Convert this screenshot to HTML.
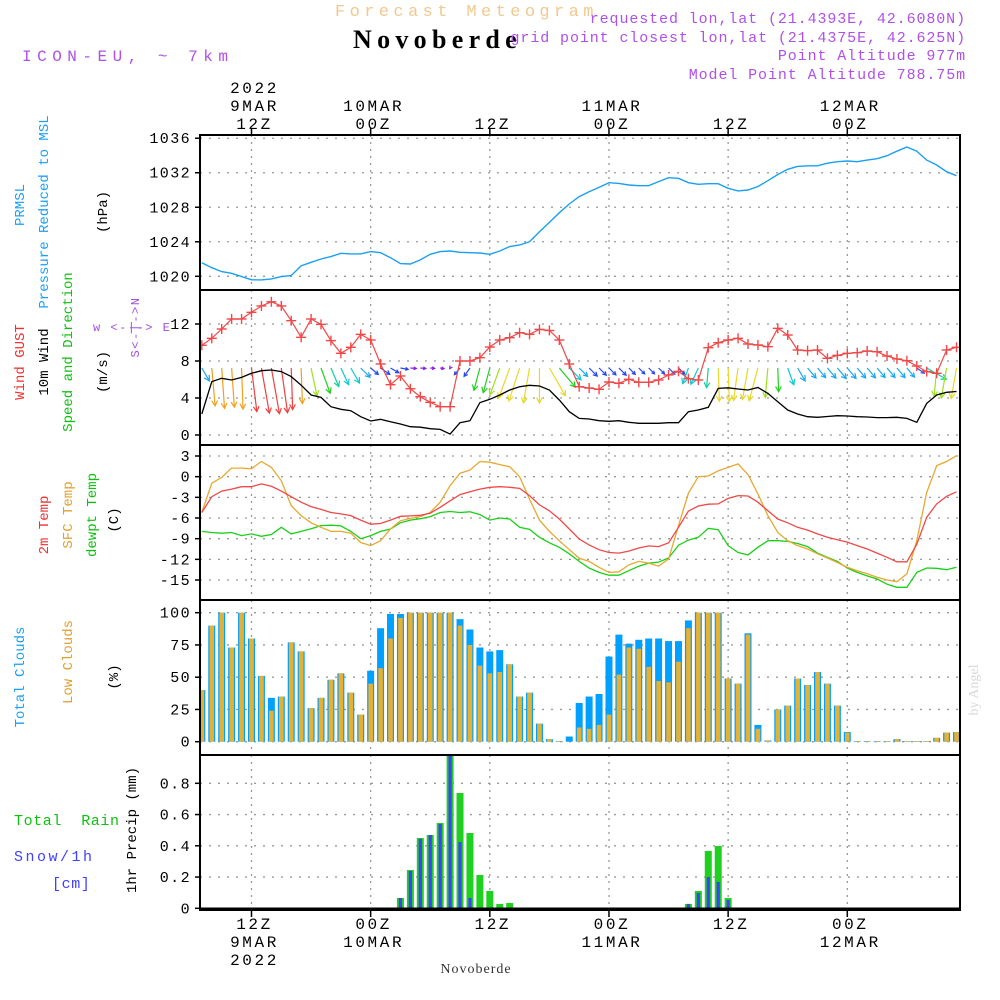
<!DOCTYPE html>
<html><head><meta charset="utf-8"><title>Meteogram Novoberde</title>
<style>
html,body{margin:0;padding:0;background:#fff;}
svg{display:block;font-family:"Liberation Mono",monospace;}
</style></head>
<body>
<svg id="chart" width="1000" height="1000" viewBox="0 0 1000 1000" xmlns="http://www.w3.org/2000/svg">
<defs>
<clipPath id="clipP"><rect x="200" y="755" width="760" height="155"/></clipPath>
<clipPath id="clipAll"><rect x="200" y="135" width="760" height="775"/></clipPath>
</defs>
<text x="335" y="16" font-size="17" fill="#f2c890" letter-spacing="4.4">Forecast Meteogram</text>
<text x="353" y="48" font-size="26" font-weight="bold" font-family="Liberation Serif, serif" fill="#000" letter-spacing="5.3">Novoberde</text>
<g fill="#b050e8" font-size="15" text-anchor="end" letter-spacing="0.9">
<text x="966" y="23">requested lon,lat (21.4393E, 42.6080N)</text>
<text x="966" y="42">grid point closest lon,lat (21.4375E, 42.625N)</text>
<text x="966" y="60">Point Altitude 977m</text>
<text x="966" y="79">Model Point Altitude 788.75m</text>
</g>
<text x="22" y="61" font-size="16" fill="#b050e8" letter-spacing="5.5">ICON-EU, ~ 7km</text>
<text x="978" y="690" font-size="14" fill="#d8d8d8" font-family="Liberation Serif, serif" transform="rotate(-90 978 690)" text-anchor="middle">by Angel</text>

<g font-size="14" text-anchor="middle">
<text transform="translate(24,205) rotate(-90)" fill="#1aa0f0">PRMSL</text>
<text transform="translate(48,212) rotate(-90)" fill="#1aa0f0">Pressure Reduced to MSL</text>
<text transform="translate(107,212) rotate(-90)" fill="#000">(hPa)</text>
<text transform="translate(24,362) rotate(-90)" fill="#f03030">Wind GUST</text>
<text transform="translate(48,362) rotate(-90)" fill="#000">10m Wind</text>
<text transform="translate(72,352) rotate(-90)" fill="#10c010">Speed and Direction</text>
<text transform="translate(107,372) rotate(-90)" fill="#000">(m/s)</text>
<text transform="translate(48,525) rotate(-90)" fill="#f03030">2m Temp</text>
<text transform="translate(72,515) rotate(-90)" fill="#e0a030">SFC Temp</text>
<text transform="translate(96,515) rotate(-90)" fill="#10c010">dewpt Temp</text>
<text transform="translate(118,520) rotate(-90)" fill="#000">(C)</text>
<text transform="translate(24,677) rotate(-90)" fill="#1aa0f0">Total Clouds</text>
<text transform="translate(72,662) rotate(-90)" fill="#e0a030">Low Clouds</text>
<text transform="translate(118,677) rotate(-90)" fill="#000">(%)</text>
<text transform="translate(136,830) rotate(-90)" fill="#000">1hr Precip (mm)</text>
</g>
<g font-size="15" letter-spacing="0.6">
<text x="14" y="825" fill="#10c010" xml:space="preserve">Total  Rain</text>
<text x="14" y="861" fill="#4040ff" letter-spacing="2.5">Snow/1h</text>
<text x="52" y="888" fill="#4040ff">[cm]</text>
</g>
<g fill="#a050e0" font-size="12">
<text x="93" y="331" letter-spacing="1.5">w &lt;-|-&gt; E</text>
<text transform="translate(139,327) rotate(-90)" text-anchor="middle" letter-spacing="1.5">S&lt;-|-&gt;N</text>
</g>
<g id="plots"></g>
</svg>
<script>
// ---- data (hourly, from 9 MAR 07Z (h=-5) to 12 MAR 11Z (h=71); h=0 is 9 MAR 12Z) ----
const hourStart = -5;
const pressure = [1021.58,1021.0,1020.54,1020.35,1019.96,1019.6,1019.58,1019.7,1019.96,1020.08,1021.2,1021.62,1022.0,1022.28,1022.66,1022.6,1022.6,1022.86,1022.74,1022.16,1021.47,1021.43,1021.9,1022.55,1022.86,1022.93,1022.78,1022.74,1022.7,1022.55,1022.93,1023.44,1023.63,1024.0,1025.17,1026.25,1027.37,1028.38,1029.23,1029.8,1030.3,1030.85,1030.77,1030.58,1030.5,1030.5,1030.97,1031.43,1031.35,1030.85,1030.66,1030.73,1030.73,1030.2,1029.9,1030.0,1030.4,1031.08,1031.8,1032.4,1032.74,1032.8,1032.8,1033.1,1033.28,1033.36,1033.28,1033.47,1033.63,1033.98,1034.5,1034.98,1034.5,1033.47,1032.9,1032.12,1031.66];
const gust = [9.7,10.45,11.46,12.54,12.54,13.26,13.95,14.4,13.95,12.36,10.56,12.54,11.96,10.2,8.83,9.48,10.88,10.27,7.68,5.44,6.38,5.0,4.14,3.53,3.06,3.06,8.0,8.0,8.36,9.51,10.27,10.52,11.06,10.88,11.42,11.3,10.27,7.68,5.22,5.08,4.94,5.73,5.59,6.02,5.7,5.7,5.95,6.49,6.88,6.09,5.95,9.44,9.98,10.27,10.45,9.84,9.73,9.55,11.53,10.81,9.19,9.12,9.19,8.29,8.61,8.83,8.9,9.08,9.0,8.54,8.22,8.03,7.46,6.85,6.67,9.19,9.48];
const windSpeed = [2.27,5.77,6.13,5.95,6.23,6.67,6.95,7.03,6.85,6.31,5.4,4.32,4.07,3.06,2.78,2.63,1.98,1.51,1.7,1.44,1.19,0.9,0.84,0.68,0.6,0.1,1.33,1.55,3.5,3.86,4.32,4.86,5.22,5.37,5.3,4.86,3.78,2.52,1.8,1.73,1.55,1.48,1.55,1.37,1.26,1.26,1.26,1.33,1.33,2.52,2.7,2.99,5.04,5.1,4.97,4.86,5.14,4.5,3.6,2.7,2.27,1.98,1.91,2.0,2.09,2.05,1.98,1.95,1.88,1.88,1.91,1.8,1.37,3.42,4.32,4.62,4.7];
const windDir = [150,175,176,176,178,173,170,170,172,178,178,168,160,157,155,150,135,130,125,120,100,95,95,95,100,215,220,215,195,195,200,200,198,190,180,150,140,135,135,135,135,135,135,135,135,135,135,135,135,200,205,185,178,178,188,190,195,185,178,160,150,140,140,140,140,140,140,140,140,140,140,140,125,120,185,190,190];
const temp2m = [-5.2,-2.9,-2.1,-1.8,-1.45,-1.45,-1.05,-1.4,-2.1,-2.9,-3.7,-4.35,-4.75,-5.2,-5.4,-5.65,-6.3,-6.9,-6.8,-6.3,-5.75,-5.7,-5.6,-5.3,-4.45,-3.5,-2.6,-2.2,-1.8,-1.55,-1.45,-1.55,-1.7,-2.75,-4.1,-4.95,-6.15,-7.6,-9.05,-9.9,-10.6,-11.0,-11.1,-10.8,-10.35,-10.05,-10.15,-9.6,-7.35,-5.0,-4.25,-4.0,-3.95,-3.15,-2.75,-2.8,-3.7,-4.95,-6.15,-6.7,-7.35,-7.75,-8.3,-8.8,-9.15,-9.5,-10.0,-10.5,-11.1,-11.7,-12.35,-12.35,-9.8,-5.9,-3.95,-2.85,-2.2];
const tempSfc = [-5.2,-0.95,-0.1,1.25,1.25,1.15,2.2,1.35,-0.6,-4.2,-5.65,-6.7,-7.35,-7.95,-7.95,-8.2,-9.55,-10.0,-9.3,-7.6,-6.4,-6.05,-5.8,-5.2,-3.7,-1.3,0.5,0.95,2.2,2.1,1.75,1.45,0.0,-3.25,-6.3,-7.95,-9.3,-10.6,-11.85,-12.3,-13.15,-13.9,-13.8,-12.8,-12.3,-12.55,-13.0,-11.95,-7.1,-2.4,0.0,0.1,0.85,1.35,1.85,0.3,-2.5,-5.65,-8.1,-9.3,-10.0,-10.5,-11.2,-11.8,-12.45,-13.15,-13.65,-14.1,-14.6,-15.0,-15.25,-14.1,-9.3,-2.3,1.6,2.2,3.05];
const tempDew = [-7.95,-8.1,-8.2,-8.1,-8.55,-8.3,-8.65,-8.4,-7.35,-8.3,-7.95,-7.55,-7.1,-7.05,-7.15,-7.95,-9.0,-8.55,-7.95,-7.6,-6.7,-6.3,-6.1,-5.8,-5.2,-5.05,-5.2,-5.1,-5.5,-6.3,-6.0,-6.15,-7.35,-7.65,-8.8,-9.6,-10.25,-11.2,-12.3,-13.25,-13.9,-14.3,-14.3,-13.65,-13.0,-12.55,-12.4,-11.8,-9.95,-9.2,-8.8,-7.5,-7.7,-10.0,-11.0,-11.35,-10.25,-9.3,-9.3,-9.4,-9.7,-10.15,-11.1,-11.7,-12.3,-13.25,-13.9,-14.4,-14.85,-15.6,-16.05,-16.05,-13.9,-13.25,-13.3,-13.5,-13.15];
const cloudTotal = [40,90,100,73,100,80,51,34,35,77,70,26,34,48,53,38,21,55,88,99,99,100,100,100,100,100,95,87,73,70,71,60,35,38,14,2,0.5,4,30,35,37,66,83,76,79,80,80,78,78,94,100,100,100,49,45,84,13,1,25,28,49,44,54,45,28,7.5,0.5,0.5,0.5,0.5,2,0.5,0.5,0.5,3,7,7.5];
const cloudLow = [40,90,100,73,100,80,51,24,35,77,70,26,34,48,53,38,21,45,57,80,96,100,100,100,100,100,90,75,59,53,54,60,35,38,14,2,0.5,0,11,10,13,21,52,73,72,58,47,46,62,88,100,100,100,49,45,83,10,1,25,28,49,44,54,45,28,7,0.5,0.5,0.5,0.5,2,0.5,0.5,0.5,3,7,7.5];
const rainTotal = [0,0,0,0,0,0,0,0,0,0,0,0,0,0,0,0,0,0,0,0,0.066,0.245,0.45,0.469,0.546,0.98,0.738,0.482,0.213,0.111,0.028,0.034,0,0,0,0,0,0,0,0,0,0,0,0,0,0,0,0,0,0.028,0.111,0.367,0.399,0.066,0,0,0,0,0,0,0,0,0,0,0,0,0,0,0,0,0,0,0,0,0,0,0];
const snow1h = [0,0,0,0,0,0,0,0,0,0,0,0,0,0,0,0,0,0,0,0,0.066,0.239,0.444,0.469,0.54,0.98,0.424,0.066,0.004,0,0,0,0,0,0,0,0,0,0,0,0,0,0,0,0,0,0,0,0,0.028,0.098,0.2,0.169,0.053,0.003,0,0,0,0,0,0,0,0,0,0,0,0,0,0,0,0,0,0,0,0,0,0];
const pressTicks = [1020,1024,1028,1032,1036];
const windTicks = [0,4,8,12];
const tempTicks = [3,0,-3,-6,-9,-12,-15];
const cloudTicks = [0,25,50,75,100];
const precipTicks = [0,0.2,0.4,0.6,0.8];
const timeMarks = [0,12,24,36,48,60];
const topLabels = [["2022","9MAR","12Z"],["","10MAR","00Z"],["","","12Z"],["","11MAR","00Z"],["","","12Z"],["","12MAR","00Z"]];
const bottomLabels = [["12Z","9MAR","2022"],["00Z","10MAR",""],["12Z","",""],["00Z","11MAR",""],["12Z","",""],["00Z","12MAR",""]];

// ---- scales ----
const X0 = 200, X1 = 960;
function xh(h){ return 251.5 + h*9.93; }
function xi(i){ return xh(i + hourStart); }
function yP(p){ return 276.3 - (p-1020)*8.63; }
function yW(v){ return 435 - v*9.25; }
function yT(t){ return 456 + (3-t)*6.89; }
function yC(c){ return 741.7 - c*1.29; }
function yR(r){ return 908.3 - r*156.25; }
const panels = [[135,290,yP,pressTicks,'pressure'],[290,445,yW,windTicks,'wind'],[445,600,yT,tempTicks,'temp'],[600,755,yC,cloudTicks,'clouds'],[755,910,yR,precipTicks,'precip']];

const NS = 'http://www.w3.org/2000/svg';
const root = document.getElementById('plots');
function mk(tag, attrs, parent){
  const e = document.createElementNS(NS, tag);
  for (const k in attrs) e.setAttribute(k, attrs[k]);
  (parent||root).appendChild(e);
  return e;
}
function speedColor(s){
  if (s < 1) return '#8a20e0';
  if (s < 1.8) return '#2848f0';
  if (s < 2.4) return '#18a8f0';
  if (s < 2.9) return '#10c8d0';
  if (s < 3.5) return '#10d0a0';
  if (s < 4.1) return '#20d020';
  if (s < 4.7) return '#a0e020';
  if (s < 5.4) return '#e8d828';
  if (s < 6.3) return '#f0a020';
  return '#f04040';
}

// ---- panels, grids, ticks ----
panels.forEach(function(p){
  const top=p[0], bot=p[1], f=p[2], ticks=p[3], nm=p[4];
  const g = mk('g', {});
  
  
  timeMarks.forEach(function(h){
    const l = mk('line', {x1:xh(h), x2:xh(h), y1:top, y2:bot, stroke:'#999', 'stroke-width':1.3, 'stroke-dasharray':'2,5'}, g);
    
    
  });
  ticks.forEach(function(t){
    const y = f(t);
    const l = mk('line', {x1:X0, x2:X1, y1:y, y2:y, stroke:'#999', 'stroke-width':1.3, 'stroke-dasharray':'2,7'}, g);
    
    
    const tk = mk('line', {x1:X0-5, x2:X0, y1:y, y2:y, stroke:'#000', 'stroke-width':1.5}, g);
    
    
    const tx = mk('text', {x:X0-9, y:y+5, 'font-size':15, 'letter-spacing':1.4, 'text-anchor':'end', fill:'#000'}, g);
    tx.textContent = (nm==='precip' && t!==0) ? t.toFixed(1) : String(t);
    
    
  });
});

// top / bottom time axes
timeMarks.forEach(function(h, k){
  const x = xh(h);
  const t1 = mk('line', {x1:x, x2:x, y1:128, y2:135, stroke:'#000', 'stroke-width':1.5});
  
  
  const t2 = mk('line', {x1:x, x2:x, y1:910, y2:917, stroke:'#000', 'stroke-width':1.5});
  
  
  topLabels[k].forEach(function(s, j){
    if (!s) return;
    const tx = mk('text', {x:x+3, y:93+j*18, 'font-size':16, 'letter-spacing':2.6, 'text-anchor':'middle', fill:'#000'});
    tx.textContent = s;
    
    
  });
  bottomLabels[k].forEach(function(s, j){
    if (!s) return;
    const tx = mk('text', {x:x+3, y:929+j*18, 'font-size':16, 'letter-spacing':2.6, 'text-anchor':'middle', fill:'#000'});
    tx.textContent = s;
    
    
  });
});
const loc = mk('text', {x:476, y:973, 'font-size':14, 'text-anchor':'middle', fill:'#333', 'font-family':'Liberation Serif, serif', 'letter-spacing':'1'});
loc.textContent = 'Novoberde';



function polyline(arr, f, color, name, w){
  const pts = arr.map(function(v,i){ return xi(i).toFixed(1)+','+f(v).toFixed(1); }).join(' ');
  const pl = mk('polyline', {points:pts, fill:'none', stroke:color, 'stroke-width':w||1.3, 'clip-path':'url(#clipAll)'});
  
  
  return pl;
}

// pressure
polyline(pressure, yP, '#1aa0f0', 'pressure-line', 1.4);

// wind arrows
windSpeed.forEach(function(s, i){
  const x = xi(i), y = 368;
  const len = s*6.6;
  const a = windDir[i]*Math.PI/180;
  const dx = Math.sin(a)*len, dy = -Math.cos(a)*len;
  const x2 = x+dx, y2 = y+dy;
  const ang = Math.atan2(dy, dx);
  const hl = Math.min(6, Math.max(3, len*0.4));
  const c = speedColor(s);
  const g = mk('g', {stroke:c, 'stroke-width':1.2, fill:'none', 'clip-path':'url(#clipAll)'});
  
  
  mk('line', {x1:x, y1:y, x2:x2, y2:y2}, g);
  mk('polyline', {points:(x2-hl*Math.cos(ang-0.5))+','+(y2-hl*Math.sin(ang-0.5))+' '+x2+','+y2+' '+(x2-hl*Math.cos(ang+0.5))+','+(y2-hl*Math.sin(ang+0.5))}, g);
});
// wind speed line
polyline(windSpeed, yW, '#000', 'wind-speed-line', 1.3);
// gust
polyline(gust, yW, '#f04848', 'gust-line', 1.2);
gust.forEach(function(v, i){
  const x = xi(i), y = yW(v);
  const g = mk('g', {stroke:'#f04848', 'stroke-width':1.4, 'clip-path':'url(#clipAll)'});
  
  
  mk('line', {x1:x-5, x2:x+5, y1:y, y2:y}, g);
  mk('line', {x1:x, x2:x, y1:y-5, y2:y+5}, g);
});

// temperatures
polyline(tempDew, yT, '#18d018', 'dewpoint-line', 1.3);
polyline(tempSfc, yT, '#e8a830', 'sfc-temp-line', 1.3);
polyline(temp2m, yT, '#f04848', 't2m-line', 1.3);

// clouds
cloudTotal.forEach(function(v, i){
  const x = xi(i);
  const r = mk('rect', {x:x-3.5, y:yC(v), width:7, height:yC(0)-yC(v), fill:'#00a0ff', 'clip-path':'url(#clipAll)'});
  
  
});
cloudLow.forEach(function(v, i){
  const x = xi(i);
  const r = mk('rect', {x:x-2.3, y:yC(v), width:4.6, height:yC(0)-yC(v), fill:'#e8b030', 'clip-path':'url(#clipAll)'});
  
  
});

// precip
rainTotal.forEach(function(v, i){
  if (v <= 0) return;
  const x = xi(i);
  const r = mk('rect', {x:x-3.5, y:yR(v), width:7, height:yR(0)-yR(v), fill:'#20d020', 'clip-path':'url(#clipP)'});
  
  
});
snow1h.forEach(function(v, i){
  if (v <= 0) return;
  const x = xi(i);
  const r = mk('rect', {x:x-1.6, y:yR(v), width:3.2, height:Math.max(1, yR(0)-yR(v)), fill:'#4040ff', 'clip-path':'url(#clipP)'});
  
  
});
const zl = mk('line', {x1:X0, x2:X1, y1:yR(0), y2:yR(0), stroke:'#000', 'stroke-width':1.5});



// panel frames on top
panels.forEach(function(p){
  const r = mk('rect', {x:X0, y:p[0], width:X1-X0, height:p[1]-p[0], fill:'none', stroke:'#000', 'stroke-width':2});
  
  
});
</script>
</body></html>
